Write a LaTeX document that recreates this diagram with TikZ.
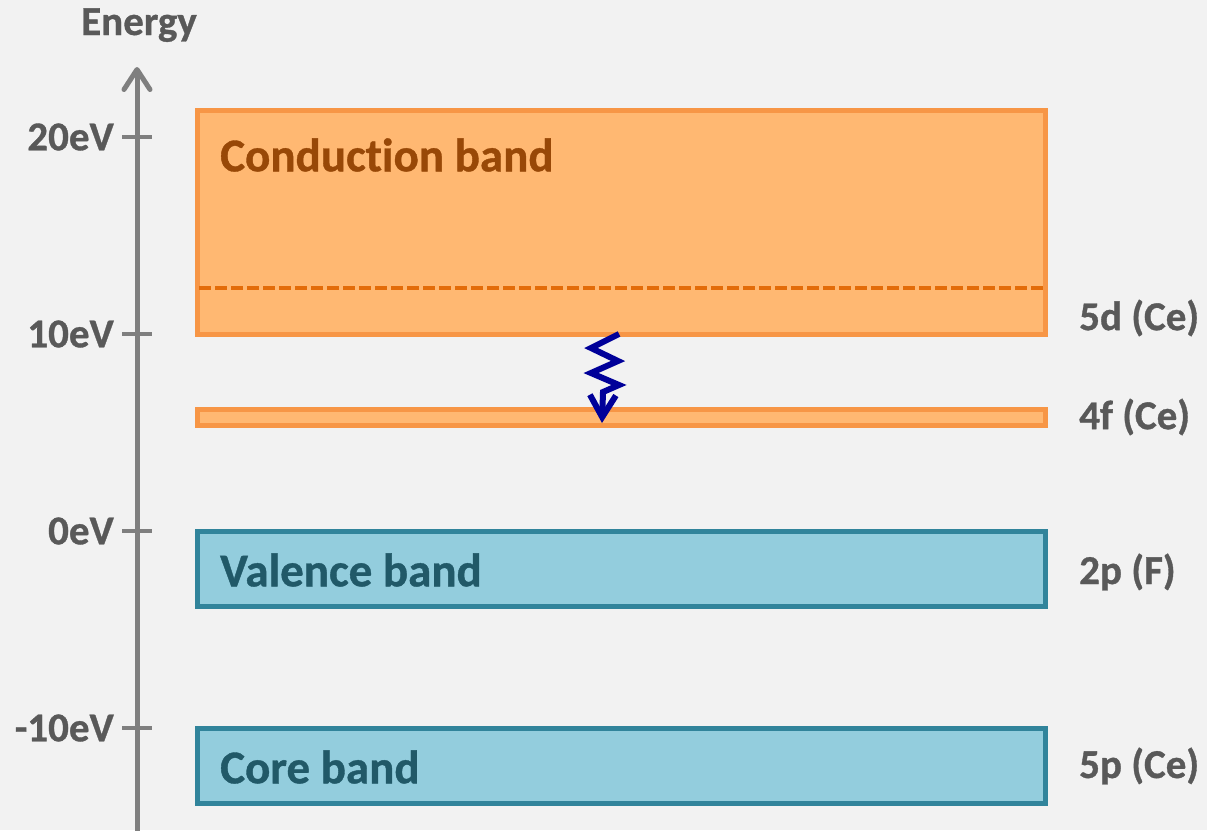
\documentclass[tikz,border=0pt]{standalone}
\usepackage{fontspec}
\setmainfont{Carlito}[BoldFont={Carlito Bold}, BoldFeatures={FakeBold=0.8}, Ligatures=NoCommon]
\usetikzlibrary{arrows.meta}
\definecolor{bg}{HTML}{F2F2F2}
\definecolor{axisgray}{HTML}{7F7F7F}
\definecolor{labgray}{HTML}{595959}
\definecolor{orfill}{HTML}{FFB872}
\definecolor{ordraw}{HTML}{F79646}
\definecolor{ordash}{HTML}{E36C09}
\definecolor{ortext}{HTML}{984807}
\definecolor{blfill}{HTML}{93CDDD}
\definecolor{bldraw}{HTML}{31849B}
\definecolor{bltext}{HTML}{215968}
\definecolor{navy}{HTML}{000099}
\tikzset{
  ticklab/.style={anchor=east, text=labgray, font=\bfseries\fontsize{41}{46}\selectfont, inner sep=0pt},
  sidelab/.style={anchor=west, text=labgray, font=\bfseries\fontsize{41}{46}\selectfont, inner sep=0pt},
  bandtxt/.style={anchor=west, font=\bfseries\fontsize{47}{52}\selectfont, inner sep=0pt},
  orband/.style={fill=orfill, draw=ordraw, line width=5pt},
  blband/.style={fill=blfill, draw=bldraw, line width=5pt},
  tickmark/.style={draw=axisgray, line width=3.5pt},
}
\begin{document}
\begin{tikzpicture}[x=1pt,y=-1pt]
\fill[bg] (0,0) rectangle (1207,830);
\useasboundingbox (0,0) rectangle (1207,830);
% axis
\coordinate (axb) at (137,834);
\coordinate (axt) at (137,67);
\draw[axisgray, line width=5pt, -{Straight Barb[length=20pt,width=26pt,round]}] (axb) -- (axt);
\node[anchor=base, text=labgray, font=\bfseries\fontsize{41}{46}\selectfont, inner sep=0pt] (energy) at (139,35) {Energy};
\foreach \yy/\lab/\nm in {137/20eV/t20, 334/10eV/t10, 531/0eV/t0, 728/-10eV/tm10}{
  \draw[tickmark] (122,\yy) -- (152,\yy);
  \node[ticklab] (\nm) at (114,\yy) {\lab};
}
% bands
\draw[orband] (197,110) rectangle (1045,334);
\node (cb) at (621,222) [minimum width=848pt, minimum height=224pt, inner sep=0pt] {};
\draw[ordash, line width=3.5pt, dash pattern=on 12pt off 4pt] (199,288) -- (1043,288);
\node[bandtxt, text=ortext] (cbt) at (220,155) {Conduction band};
\draw[orband] (197,409) rectangle (1045,425);
\node (ff) at (621,417) [minimum width=848pt, minimum height=16pt, inner sep=0pt] {};
\draw[blband] (197,531) rectangle (1045,606);
\node[bandtxt, text=bltext] (vbt) at (220,570) {Valence band};
\draw[blband] (197,728) rectangle (1045,803);
\node[bandtxt, text=bltext] (cbd) at (220,767) {Core band};
% side labels
\node[sidelab] (l5d) at (1079,318) {5d (Ce)};
\node[sidelab] (l4f) at (1079,417) {4f (Ce)};
\node[sidelab] (l2p) at (1079,572) {2p (F)};
\node[sidelab] (l5p) at (1079,766) {5p (Ce)};
% relaxation arrow
\coordinate (zs) at (619,334);
\coordinate (ze) at (602,423);
\draw[navy, line width=6pt, line join=miter, -{Straight Barb[length=22pt,width=26pt,line width=6pt]}]
  (zs) -- (591,348) -- (618,361) -- (591,373) -- (619,385) -- (603,392) -- (ze);
\end{tikzpicture}
\end{document}
